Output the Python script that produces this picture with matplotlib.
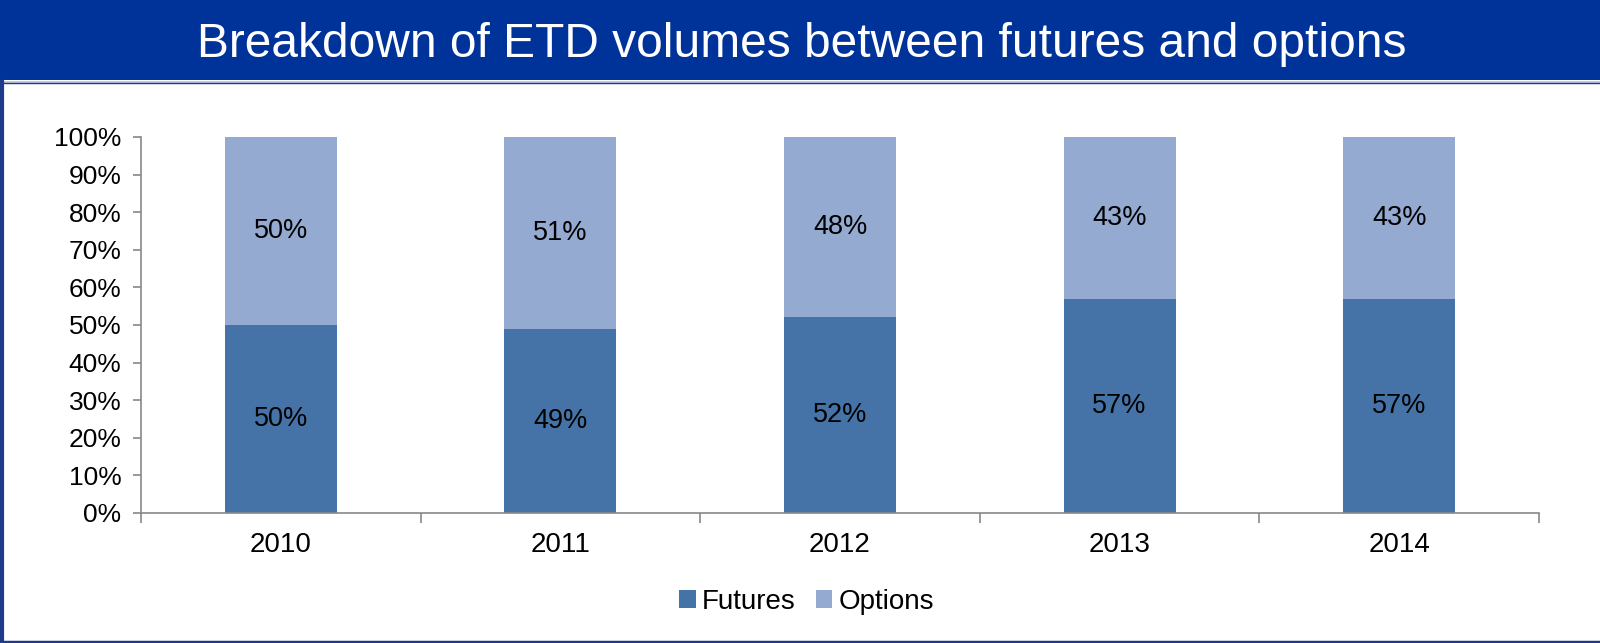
import matplotlib.pyplot as plt
from matplotlib.patches import Rectangle
from matplotlib.lines import Line2D

plt.rcParams['font.family'] = ['Liberation Sans', 'DejaVu Sans']

years = ["2010", "2011", "2012", "2013", "2014"]
futures = [50, 49, 52, 57, 57]
options = [50, 51, 48, 43, 43]

fut_color = "#4673A7"
opt_color = "#95AAD1"
navy = "#003399"

fig = plt.figure(figsize=(16, 6.43), dpi=100)

# title banner
fig.patches.append(Rectangle((0, 1 - 80 / 643), 1, 80 / 643, transform=fig.transFigure,
                             facecolor=navy, edgecolor="none", zorder=0))
fig.lines.append(Line2D([0, 1], [1 - 81.5 / 643] * 2, transform=fig.transFigure,
                        color="#B8C4E0", lw=1.2))
fig.lines.append(Line2D([0, 1], [1 - 83 / 643] * 2, transform=fig.transFigure,
                        color="#1F3A8A", lw=1))
# frame on left and bottom
fig.lines.append(Line2D([0.001, 0.001], [0, 1 - 82 / 643], transform=fig.transFigure,
                        color="#1F3A8A", lw=3))
fig.lines.append(Line2D([0, 1], [0.002, 0.002], transform=fig.transFigure,
                        color="#1F3A8A", lw=2.5))
fig.text(0.501, 1 - 57 / 643, "Breakdown of ETD volumes between futures and options",
         ha="center", va="baseline", color="white", fontsize=34.5)

ax = fig.add_axes([141 / 1600, 1 - 513 / 643, (1539 - 141) / 1600, (513 - 137) / 643])

x = range(len(years))
b1 = ax.bar(x, futures, width=0.4, color=fut_color, label="Futures")
b2 = ax.bar(x, options, width=0.4, bottom=futures, color=opt_color, label="Options")

for i in x:
    ax.text(i, futures[i] / 2, f"{futures[i]}%", ha="center", va="center", fontsize=19.5)
    ax.text(i, futures[i] + options[i] / 2, f"{options[i]}%", ha="center", va="center",
            fontsize=19.5)

ax.set_xlim(-0.5, len(years) - 0.5)
ax.set_ylim(0, 100)
ax.set_yticks(range(0, 101, 10))
ax.set_yticklabels([f"{v}%" for v in range(0, 101, 10)], fontsize=19)
ax.tick_params(axis="y", length=6, color="#888888", width=1.2, pad=8)

ax.set_xticks(list(x))
ax.set_xticklabels(years, fontsize=20)
ax.tick_params(axis="x", length=0, pad=14)
ax.set_xticks([i - 0.5 for i in range(len(years) + 1)], minor=True)
ax.tick_params(axis="x", which="minor", length=7, color="#888888", width=1.2)

for s in ["top", "right"]:
    ax.spines[s].set_visible(False)
for s in ["left", "bottom"]:
    ax.spines[s].set_color("#888888")
    ax.spines[s].set_linewidth(1.2)

fig.legend(handles=[b1, b2], loc="center", bbox_to_anchor=(0.504, 1 - 602 / 643),
           ncol=2, frameon=False, fontsize=20, handlelength=0.6, handleheight=0.6,
           handletextpad=0.22, columnspacing=0.72)

fig.savefig("out.png", dpi=100)
